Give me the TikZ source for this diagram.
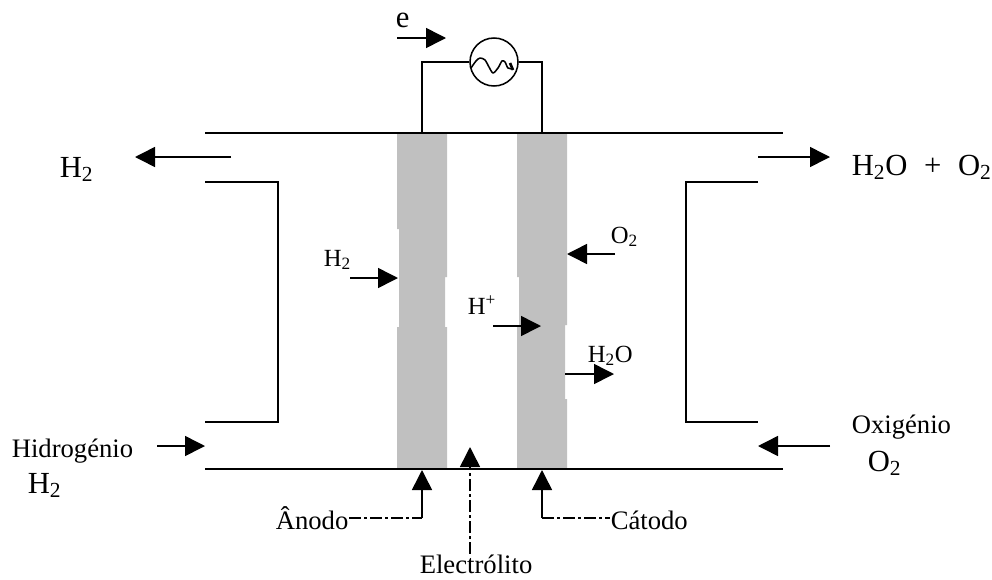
\documentclass[tikz,border=0pt]{standalone}
\usepackage{fontspec}
\setmainfont{Liberation Serif}
\usetikzlibrary{arrows.meta}
\definecolor{electrode}{HTML}{C0C0C0}

\begin{document}
\begin{tikzpicture}[x=0.75pt, y=-0.75pt,
        line width=1.15pt,
        flow/.style = {-{Triangle[length=15pt,width=15pt]}},
        dashdotted line/.style = {dash pattern=on 9pt off 2.25pt on 2.25pt off 2.25pt},
        small label/.style = {inner sep=0pt, anchor=base west, font=\fontsize{18.5}{20}\selectfont},
        word label/.style = {inner sep=0pt, anchor=base west, font=\fontsize{20}{22}\selectfont},
        large label/.style = {inner sep=0pt, anchor=base west, font=\fontsize{23}{25}\selectfont},
    ]
    \useasboundingbox (0,0) rectangle (992,579);

    % electrodes
    \fill[electrode] (397,133) -- (447,133) -- (447,277) -- (445,277) -- (445,327) -- (447,327)
        -- (447,469) -- (397,469) -- (397,327) -- (399,327) -- (399,229) -- (397,229) -- cycle;
    \fill[electrode] (517,133) -- (567,133) -- (567,325) -- (565,325) -- (565,399) -- (567,399)
        -- (567,469) -- (517,469) -- (517,325) -- (519,325) -- (519,277) -- (517,277) -- cycle;

    % cell walls
    \draw (205,133) -- (783,133);
    \draw (205,469) -- (783,469);
    \draw (205,182) -- (278,182) -- (278,422) -- (205,422);
    \draw (758,182) -- (686,182) -- (686,422) -- (758,422);

    \foreach \y in {133,469}
        {
            \draw[line width=1.5pt] (373,\y) -- (447,\y);
            \draw[line width=1.5pt] (517,\y) -- (567,\y);
        }

    % load
    \node[draw, circle, minimum size=36pt, inner sep=0pt] (load) at (494,62) {};
    \coordinate (wire a) at (422,133);
    \coordinate (wire c) at (542,133);
    \draw (wire a) |- (load.west);
    \draw (wire c) |- (load.east);
    \draw[line join=round] plot[smooth] coordinates {(471,68) (476,61) (480,58) (485,60) (489,67)
            (493,73) (498,68) (502,61) (505,62) (508,68) (513,69)};
    \draw[line width=2pt] (510,63) -- (513,70);

    % flow arrows
    \coordinate (e a) at (397,38);      \coordinate (e b) at (446,38);
    \coordinate (h out a) at (231,157); \coordinate (h out b) at (135,157);
    \coordinate (w out a) at (758,157); \coordinate (w out b) at (830,157);
    \coordinate (h in a) at (350,278);  \coordinate (h in b) at (398,278);
    \coordinate (o in a) at (615,254);  \coordinate (o in b) at (567,254);
    \coordinate (p a) at (493,326);     \coordinate (p b) at (541,326);
    \coordinate (w a) at (565,374);     \coordinate (w b) at (614,374);
    \coordinate (hf a) at (157,446);    \coordinate (hf b) at (205,446);
    \coordinate (of a) at (830,446);    \coordinate (of b) at (758,446);

    \foreach \i in {e,h out,w out,h in,o in,p,w,hf,of}
        {
            \draw[flow] (\i\space a) -- (\i\space b);
        }

    % labels
    \node[large label] (e label) at (395,27) {e};
    \node[large label] (h out label) at (59,177) {H\textsubscript{2}};
    \node[large label] (w out label) at (851,175) {H\textsubscript{2}O\hspace{12.5pt}+\hspace{12.5pt}O\textsubscript{2}};
    \node[small label] (h in label) at (323,266) {H\textsubscript{2}};
    \node[small label] (o in label) at (610,243) {O\textsubscript{2}};
    \node[small label] (p label) at (467,314) {H\textsuperscript{+}};
    \node[small label] (w label) at (587,362) {H\textsubscript{2}O};
    \node[word label] (hf label) at (11,457) {Hidrogénio};
    \node[large label] (hf formula) at (27,493) {H\textsubscript{2}};
    \node[word label] (of label) at (851,433) {Oxigénio};
    \node[large label] (of formula) at (867,471) {O\textsubscript{2}};

    % callouts
    \node[word label] (anode) at (275,529) {Ânodo};
    \node[word label] (cathode) at (610,529) {Cátodo};
    \node[word label] (electrolyte) at (419,573) {Electrólito};
    \coordinate (anode tip) at (422,470);
    \coordinate (anode bend) at (422,518);
    \coordinate (cathode tip) at (542,470);
    \coordinate (cathode bend) at (542,518);
    \coordinate (electrolyte tip) at (470,447);
    \coordinate (electrolyte tail) at (470,468);

    \draw[dashdotted line] (anode.east |- anode bend) -- (anode bend);
    \draw[dashdotted line] (cathode bend) -- (cathode.west |- cathode bend);
    \draw[flow] (anode bend) -- (anode tip);
    \draw[flow] (cathode bend) -- (cathode tip);
    \draw[dashdotted line] (electrolyte.north -| electrolyte tip) -- (electrolyte tail);
    \draw[flow] (electrolyte tail) -- (electrolyte tip);
\end{tikzpicture}
\end{document}
